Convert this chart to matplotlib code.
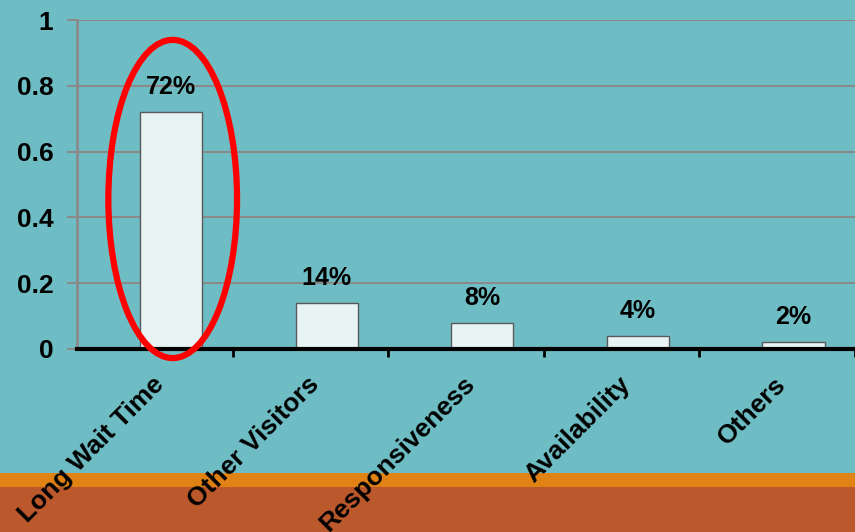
import matplotlib
matplotlib.use("Agg")
import matplotlib.pyplot as plt
from matplotlib.patches import Ellipse, Rectangle
from matplotlib.ticker import FixedLocator

categories = ["Long Wait Time", "Other Visitors", "Responsiveness", "Availability", "Others"]
values = [0.72, 0.14, 0.08, 0.04, 0.02]
value_labels = ["72%", "14%", "8%", "4%", "2%"]
y_ticks = [0, 0.2, 0.4, 0.6, 0.8, 1.0]
y_tick_labels = ["0", "0.2", "0.4", "0.6", "0.8", "1"]

BG = "#6FBDC4"
W, H = 855, 532
fig = plt.figure(figsize=(W / 100, H / 100), dpi=100, facecolor=BG)

# bottom decorative bands
fig.patches.append(Rectangle((0, 0), 1, (H - 487) / H, transform=fig.transFigure,
                             facecolor="#BB582C", edgecolor="none", zorder=-2))
fig.patches.append(Rectangle((0, (H - 487) / H), 1, 14 / H, transform=fig.transFigure,
                             facecolor="#E08314", edgecolor="none", zorder=-2))

left, right, top, bottom = 77, 855, 20, 349
ax = fig.add_axes([left / W, 1 - bottom / H, (right - left) / W, (bottom - top) / H])
ax.set_facecolor("none")
ax.set_zorder(2)

cat_w = 156.0
ax.set_xlim(-0.5, -0.5 + (right - left) / cat_w)
ax.set_ylim(0, 1)

x = list(range(len(categories)))
bar_x = [i + 0.105 for i in x]
ax.bar(bar_x, values, width=0.4, color="#E8F4F4", edgecolor="#5a5a5a", linewidth=1.0, zorder=3)

for bx, v, lab in zip(bar_x, values, value_labels):
    ax.annotate(lab, (bx, v), xytext=(0, 18), textcoords="offset points",
                ha="center", va="center", fontsize=18, fontweight="bold",
                family="Liberation Sans", color="black", zorder=5)

# gridlines
ax.yaxis.set_major_locator(FixedLocator(y_ticks))
ax.set_yticklabels(y_tick_labels, fontsize=19, fontweight="bold", family="Liberation Sans")
ax.grid(axis="y", color="#8a8a8a", linewidth=1.5, zorder=1)
ax.tick_params(axis="y", length=7, width=1.5, color="#8a8a8a", pad=10)

# x axis: ticks at category boundaries, labels drawn manually
ax.set_xticks([i + 0.5 for i in range(len(categories))])
ax.set_xticklabels([])
ax.tick_params(axis="x", length=6, width=2, color="black", direction="out")
for i, c in enumerate(categories):
    ax.text(i - 0.02, -0.07, c, transform=ax.get_xaxis_transform(), rotation=45,
            rotation_mode="anchor", ha="right", va="top", fontsize=19,
            fontweight="bold", family="Liberation Sans", color="black")

for s in ["top", "right"]:
    ax.spines[s].set_visible(False)
ax.spines["left"].set_color("#8a8a8a")
ax.spines["left"].set_linewidth(2)
ax.spines["bottom"].set_color("black")
ax.spines["bottom"].set_linewidth(3)
ax.spines["bottom"].set_zorder(4)

# red highlight ellipse
ell = Ellipse((0.115, 0.456), width=0.827, height=0.967, fill=False,
              edgecolor="#FF0000", linewidth=4.5, clip_on=False, zorder=6)
ax.add_patch(ell)

fig.savefig("out.png", dpi=100, facecolor=BG)
